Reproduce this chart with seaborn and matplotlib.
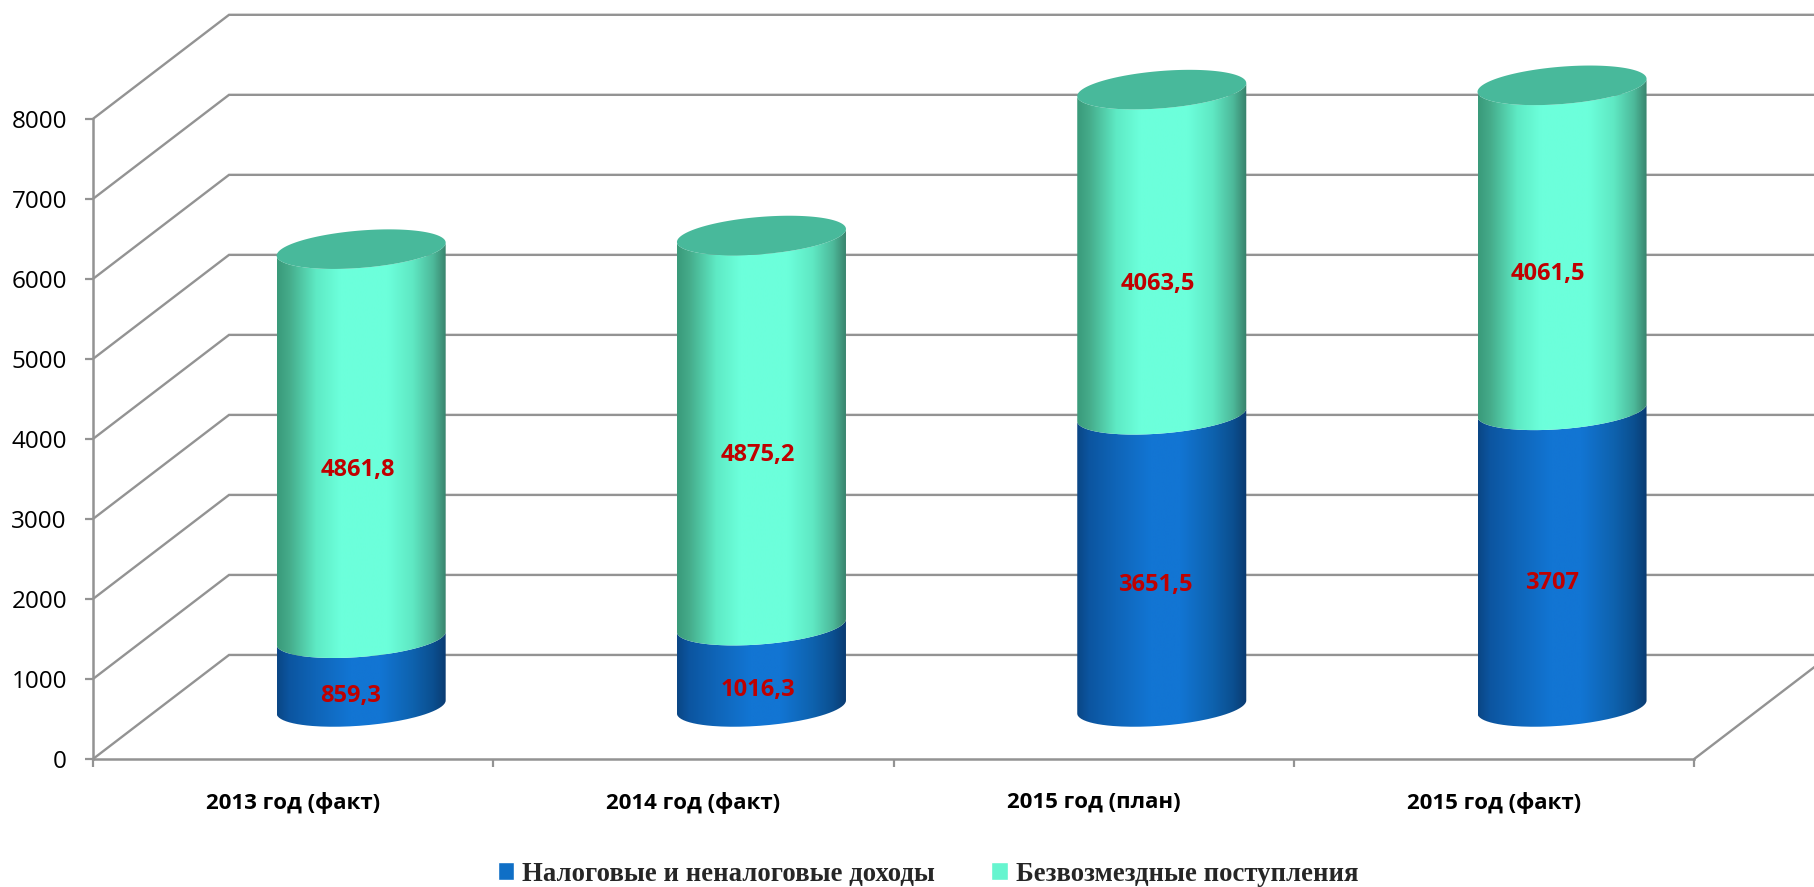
import numpy as np
import matplotlib
matplotlib.use('Agg')
import matplotlib.pyplot as plt
import seaborn as sns
from matplotlib.colors import LinearSegmentedColormap
from matplotlib.patches import Patch, PathPatch, Polygon
from matplotlib.path import Path

categories = ['2013 год (факт)', '2014 год (факт)', '2015 год (план)', '2015 год (факт)']
tax_income = [859.3, 1016.3, 3651.5, 3707]
grants = [4861.8, 4875.2, 4063.5, 4061.5]
y_ticks = [0, 1000, 2000, 3000, 4000, 5000, 6000, 7000, 8000]
series_names = ['Налоговые и неналоговые доходы', 'Безвозмездные поступления']

# CONFIG (sizes in pixels at dpi=100, measured on the reference)
W, H = 1814, 887
LEFT, RIGHT, BASE, TOP = 93, 1694, 759, 119
DEPTH_PX = (136, 104)      # front plane -> back wall
GREY = '#939393'
LABEL_RED = '#c00000'
BLUE = '#0f6fc6'
TEAL = '#66f5cf'
CAP = '#48b99b'

# label offsets from the segment middle, points (the labels sit by hand in the reference)
tax_label_dx = [-7.5, -2.5, -4.5, -7]
tax_label_dy = [-17, -17, -17.5, -17.5]
grant_label_dx = [-2.5, -2.5, -2.5, -10]
grant_label_dy = [-19, -17.5, -23, -19]

blue_map = LinearSegmentedColormap.from_list('blue', [
    (0, '#0a4685'), (0.07, '#0c55a0'), (0.23, '#0f65b8'), (0.43, '#1275d3'),
    (0.61, '#1275d3'), (0.8, '#0e62ae'), (0.92, '#0b4f90'), (1, '#0a3a70')])
teal_map = LinearSegmentedColormap.from_list('teal', [
    (0, '#3a9a7a'), (0.07, '#45ab8a'), (0.23, '#5eeac4'), (0.37, '#6cffdb'),
    (0.65, '#6cffdb'), (0.8, '#5fe8c3'), (0.92, '#4db99a'), (1, '#38806a')])

sns.set_theme(style='white')
plt.rcParams['font.family'] = ['Open Sans', 'DejaVu Sans']

fig = plt.figure(figsize=((W + 0.2) / 100, (H + 0.2) / 100), dpi=100)
ax = fig.add_axes([LEFT / W, 1 - BASE / H, (RIGHT - LEFT) / W, (BASE - TOP) / H])
ax.set_xlim(-0.5, 3.5)
ax.set_ylim(0, 8000)

# px -> data units, the wall depth is expressed in data so it follows the scale
px_x = 4 / (RIGHT - LEFT)
px_y = 8000 / (BASE - TOP)
depth_x, depth_y = DEPTH_PX[0] * px_x, DEPTH_PX[1] * px_y

# 1. WALLS
for v in y_ticks:
    ax.plot([-0.5, -0.5 + depth_x, 3.5 + depth_x], [v, v + depth_y, v + depth_y],
            color=GREY, lw=1.7, clip_on=False, solid_joinstyle='miter')
ax.plot([3.5, 3.5 + depth_x], [0, depth_y], color=GREY, lw=1.7, clip_on=False)

sns.despine(ax=ax, top=True, right=True)
for side in ['left', 'bottom']:
    ax.spines[side].set_color(GREY)
    ax.spines[side].set_linewidth(1.8)
ax.set_yticks(y_ticks)
ax.set_xticks(np.arange(-0.5, 4))
ax.set_xticklabels([])
ax.set_xticks(range(len(categories)), labels=categories, minor=True)
ax.tick_params(axis='y', which='major', left=True, length=5.8, width=1.6, color=GREY, pad=13, labelsize=17.5, labelcolor='black')
ax.tick_params(axis='x', which='major', bottom=True, length=5.8, width=1.6, color=GREY)
ax.tick_params(axis='x', which='minor', bottom=False, length=0, pad=23.5, labelsize=16, labelcolor='black')
for t in ax.get_xticklabels(minor=True):
    t.set_fontweight('bold')

# 2. CYLINDERS, on a plane half way into the floor
bar_ax = fig.add_axes([(LEFT + DEPTH_PX[0] / 2) / W, 1 - (BASE - DEPTH_PX[1] / 2) / H,
                       (RIGHT - LEFT) / W, (BASE - TOP) / H], zorder=2)
sns.barplot(x=categories, y=tax_income, ax=bar_ax, width=169 * px_x, color=BLUE, legend=False)
sns.barplot(x=categories, y=grants, bottom=tax_income, ax=bar_ax, width=169 * px_x, color=TEAL, legend=False)
bar_ax.set_xlim(-0.5, 3.5)
bar_ax.set_ylim(0, 8000)
bar_ax.set_autoscale_on(False)
bar_ax.axis('off')

TILT = 6.5 * px_y
ROUND = 18.7 * px_y
t = np.linspace(np.pi, 2 * np.pi, 80)


def front_arc(cx, half, y):
    return np.column_stack([cx + half * np.cos(t), y + TILT * np.cos(t) + ROUND * np.sin(t)])


n = len(categories)
for i, bar in enumerate(bar_ax.patches):
    bar.set_visible(False)
    x0, w, y0, y1 = bar.get_x(), bar.get_width(), bar.get_y(), bar.get_y() + bar.get_height()
    cx, half = x0 + w / 2, w / 2
    low, high = front_arc(cx, half, y0), front_arc(cx, half, y1)
    outline = np.vstack([low, high[::-1], low[:1]])
    clip = PathPatch(Path(outline), transform=bar_ax.transData)
    cmap = blue_map if i < n else teal_map
    im = bar_ax.imshow(np.linspace(0, 1, 256)[None, :], cmap=cmap, aspect='auto', interpolation='bilinear',
                       extent=(x0, x0 + w, y0 - 2 * ROUND, y1 + 2 * ROUND), zorder=3)
    im.set_clip_box(fig.bbox)
    im.set_clip_path(clip)
    if i >= n:
        # flat lid of the cylinder
        a = np.linspace(0, 2 * np.pi, 160)
        lid = np.column_stack([cx + half * np.cos(a), y1 + TILT * np.cos(a) + ROUND * np.sin(a)])
        bar_ax.add_patch(Polygon(lid, closed=True, facecolor=CAP, edgecolor='none', clip_on=False, zorder=4))

# 3. VALUE LABELS
for i in range(n):
    segments = [(0, tax_income[i], tax_label_dx[i], tax_label_dy[i]),
                (tax_income[i], grants[i], grant_label_dx[i], grant_label_dy[i])]
    for bottom, value, dx, dy in segments:
        bar_ax.annotate(f'{value:g}'.replace('.', ','), (i, bottom + value / 2),
                        xytext=(dx, dy), textcoords='offset points', ha='center', va='center',
                        color=LABEL_RED, fontsize=17, fontweight='bold', annotation_clip=False, zorder=5)

# 4. LEGEND
handles = [Patch(facecolor=BLUE, label=series_names[0]), Patch(facecolor=TEAL, label=series_names[1])]
fig.legend(handles=handles, loc='center', bbox_to_anchor=(928 / W, 1 - 874 / H), ncol=2, frameon=False,
           handlelength=0.6, handleheight=0.7, handletextpad=0.3, columnspacing=2.1,
           prop={'family': 'Liberation Serif', 'weight': 'bold', 'size': 19.3})

fig.savefig('out.png', dpi=100)
